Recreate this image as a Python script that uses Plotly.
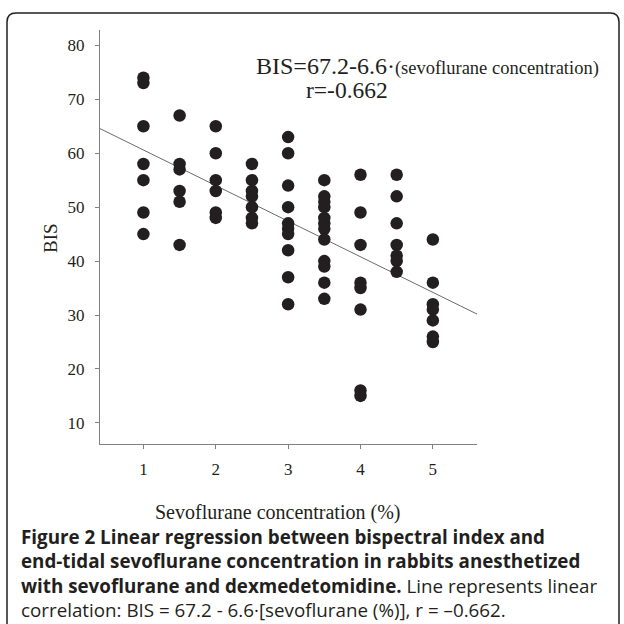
import plotly.graph_objects as go

# ---- data ----
conc_levels = [1.0, 1.5, 2.0, 2.5, 3.0, 3.5, 4.0, 4.5, 5.0]
bis_at_1_0 = [74, 73, 65, 58, 55, 49, 45]
bis_at_1_5 = [67, 58, 57, 53, 51, 43]
bis_at_2_0 = [65, 60, 55, 53, 49, 48]
bis_at_2_5 = [58, 55, 53, 52, 50, 48, 47]
bis_at_3_0 = [63, 60, 54, 50, 47, 46, 45, 42, 37, 32]
bis_at_3_5 = [55, 52, 51, 50, 48, 47, 46, 44, 40, 39, 36, 33]
bis_at_4_0 = [56, 49, 43, 36, 35, 31, 16, 15]
bis_at_4_5 = [56, 52, 47, 43, 41, 40, 38]
bis_at_5_0 = [44, 36, 32, 31, 29, 26, 25]
bis_groups = [bis_at_1_0, bis_at_1_5, bis_at_2_0, bis_at_2_5, bis_at_3_0,
              bis_at_3_5, bis_at_4_0, bis_at_4_5, bis_at_5_0]

intercept = 67.2
slope = -6.6
x_range = [0.40, 5.61]
y_range = [6.08, 82.85]
x_ticks = [1, 2, 3, 4, 5]
y_ticks = [10, 20, 30, 40, 50, 60, 70, 80]

xs, ys = [], []
for c, vals in zip(conc_levels, bis_groups):
    xs += [c] * len(vals)
    ys += vals

fit_x = x_range
fit_y = [intercept + slope * v for v in fit_x]

INK = "#231f20"
AX = "#808080"

# plot area in pixels
L, R, T, B = 100.0, 477.0, 30.0, 444.0
W = H = 624

def px(xp):
    return (xp - L) / (R - L)

def py(yp):
    return (B - yp) / (B - T)

fig = go.Figure()
fig.add_trace(go.Scatter(x=fit_x, y=fit_y, mode="lines",
                         line=dict(color="#6b6b6b", width=1), hoverinfo="skip"))
fig.add_trace(go.Scatter(x=xs, y=ys, mode="markers",
                         marker=dict(color=INK, size=12.5, line=dict(width=0))))

serif = "Liberation Serif"
sans = "Open Sans"

fig.update_layout(
    width=W, height=H, showlegend=False,
    paper_bgcolor="white", plot_bgcolor="white",
    margin=dict(l=L, r=W - R, t=T, b=H - B, pad=0),
    xaxis=dict(range=x_range, tickvals=x_ticks, showgrid=False, zeroline=False,
               showline=True, linecolor=AX, linewidth=1.3,
               ticks="outside", ticklen=4, tickcolor=AX, tickwidth=1,
               ticklabelstandoff=5,
               tickfont=dict(family=serif, size=17, color=INK)),
    yaxis=dict(range=y_range, tickvals=y_ticks, showgrid=False, zeroline=False,
               showline=True, linecolor=AX, linewidth=1.3,
               ticks="outside", ticklen=4, tickcolor=AX, tickwidth=1,
               ticklabelstandoff=7,
               tickfont=dict(family=serif, size=17, color=INK)),
)

ann = []
ann.append(dict(x=px(50), y=py(238), xref="paper", yref="paper", text="BIS",
                textangle=-90, showarrow=False, xanchor="center", yanchor="middle",
                font=dict(family=serif, size=19, color=INK)))
ann.append(dict(x=px(277), y=py(512), xref="paper", yref="paper",
                text="Sevoflurane concentration (%)", showarrow=False,
                xanchor="center", yanchor="middle",
                font=dict(family=serif, size=20, color=INK)))
ann.append(dict(x=px(254), y=py(66), xref="paper", yref="paper", xanchor="left",
                yanchor="middle",
                text="BIS=67.2-6.6·<span style='font-size:18.5px'>(sevoflurane concentration)</span>",
                showarrow=False, font=dict(family=serif, size=24, color=INK)))
ann.append(dict(x=px(304), y=py(90), xref="paper", yref="paper", xanchor="left",
                yanchor="middle", text="r=-0.662", showarrow=False,
                font=dict(family=serif, size=23.5, color=INK)))

caption = ("<b>Figure 2 Linear regression between bispectral index and</b><br>"
           "<b>end-tidal sevoflurane concentration in rabbits anesthetized</b><br>"
           "<b>with sevoflurane and dexmedetomidine.</b> Line represents linear<br>"
           "correlation: BIS = 67.2 - 6.6·[sevoflurane (%)], r = –0.662.")
ann.append(dict(x=px(19), y=py(624.5), xref="paper", yref="paper",
                xanchor="left", yanchor="bottom", align="left", text=caption,
                showarrow=False, font=dict(family=sans, size=18.8, color=INK)))
fig.update_layout(annotations=ann)

# rounded border of the figure panel
x0, y0, x1, y1, r = 7, 13, 619, 640, 9
path = (f"M {px(x0)},{py(y0 + r)} L {px(x0)},{py(y1)} "
        f"M {px(x0)},{py(y0 + r)} Q {px(x0)},{py(y0)} {px(x0 + r)},{py(y0)} "
        f"L {px(x1 - r)},{py(y0)} Q {px(x1)},{py(y0)} {px(x1)},{py(y0 + r)} "
        f"L {px(x1)},{py(y1)}")
fig.add_shape(type="path", path=path, xref="paper", yref="paper",
              line=dict(color=INK, width=1.5))

fig.write_html("out.html", config={"displayModeBar": False},
               post_script="document.body.style.margin='0';document.body.style.overflow='hidden';")
